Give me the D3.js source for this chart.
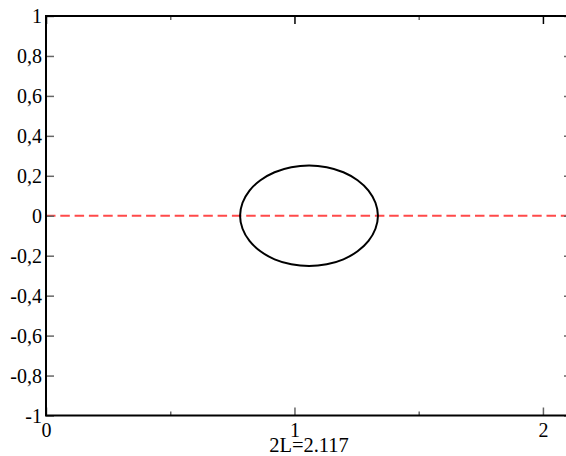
<!DOCTYPE html>
<html>
<head>
<meta charset="utf-8">
<script src="https://cdn.jsdelivr.net/npm/d3@7/dist/d3.min.js"></script>
</head>
<body style="margin:0">
<div id="chart"></div>
<script>
// axis ticks and their labels
const xTicks = [0, 1, 2];
const xTickLabels = ["0", "1", "2"];
const xMinorTicks = [0.5, 1.5];
const yTicks = [-1, -0.8, -0.6, -0.4, -0.2, 0, 0.2, 0.4, 0.6, 0.8, 1];
const yTickLabels = ["-1", "-0,8", "-0,6", "-0,4", "-0,2", "0", "0,2", "0,4", "0,6", "0,8", "1"];

// bubble outline
const shapeX = [1.336, 1.326, 1.298, 1.254, 1.197, 1.130, 1.059, 0.987, 0.920, 0.863, 0.819, 0.791,
                0.781, 0.791, 0.819, 0.863, 0.920, 0.987, 1.059, 1.130, 1.197, 1.254, 1.298, 1.326];
const shapeY = [0, 0.065, 0.126, 0.178, 0.218, 0.243, 0.252, 0.243, 0.218, 0.178, 0.126, 0.065,
                0, -0.065, -0.126, -0.178, -0.218, -0.243, -0.252, -0.243, -0.218, -0.178, -0.126, -0.065];

// dashed axis line
const lineX = [0, 2.117];
const lineY = [0, 0];

const caption = "2L=2.117";
const xMax = 2.117;
const FONT = "Liberation Serif";

const width = 566, height = 456;
const margin = {top: 16, right: -6, bottom: 40.5, left: 46};
const w = width - margin.left - margin.right;
const h = height - margin.top - margin.bottom;

const x = d3.scaleLinear().domain([0, xMax]).range([0, w]);
const y = d3.scaleLinear().domain([-1, 1]).range([h, 0]);

const svg = d3.select("#chart").append("svg")
    .attr("width", width)
    .attr("height", height);

const g = svg.append("g")
    .attr("transform", "translate(" + margin.left + "," + margin.top + ")");

// dashed red line at y=0
g.append("path")
    .datum(lineX.map((d, i) => [d, lineY[i]]))
    .attr("fill", "none")
    .attr("stroke", "#ff4a4a")
    .attr("stroke-width", 2)
    .attr("stroke-dasharray", "9.5,4.8")
    .attr("d", d3.line().x(d => x(d[0])).y(d => y(d[1])));

// bubble
g.append("path")
    .datum(shapeX.map((d, i) => [d, shapeY[i]]))
    .attr("fill", "none")
    .attr("stroke", "#000")
    .attr("stroke-width", 2)
    .attr("d", d3.line().x(d => x(d[0])).y(d => y(d[1])).curve(d3.curveCatmullRomClosed));

function styleAxis(sel) {
  sel.select(".domain").remove();
  sel.selectAll(".tick line").attr("stroke", "#666").attr("stroke-width", 1.5);
}

function tickText(sel) {
  sel.selectAll("text")
    .attr("fill", "#000")
    .attr("font-family", FONT)
    .attr("font-size", 20);
}

// left axis
g.append("g")
    .call(d3.axisLeft(y).tickValues(yTicks).tickSize(-8).tickPadding(4)
      .tickFormat((d, i) => yTickLabels[i]))
    .call(styleAxis)
    .call(tickText)
    .call(s => s.selectAll("text").attr("x", -4).attr("dy", "0.34em"));

// right axis
g.append("g")
    .attr("transform", "translate(" + w + ",0)")
    .call(d3.axisRight(y).tickValues(yTicks).tickSize(-8).tickFormat(""))
    .call(styleAxis);

// bottom axis
g.append("g")
    .attr("transform", "translate(0," + h + ")")
    .call(d3.axisBottom(x).tickValues(xTicks).tickSize(-8).tickPadding(4)
      .tickFormat((d, i) => xTickLabels[i]))
    .call(styleAxis)
    .call(tickText)
    .call(s => s.selectAll("text").attr("y", 4).attr("dy", "0.85em"));

g.append("g")
    .attr("transform", "translate(0," + h + ")")
    .call(d3.axisBottom(x).tickValues(xMinorTicks).tickSize(-4).tickFormat(""))
    .call(styleAxis);

// top axis
g.append("g")
    .call(d3.axisTop(x).tickValues(xTicks).tickSize(-8).tickFormat(""))
    .call(styleAxis)
    .call(s => s.selectAll(".tick line").attr("stroke", "#000"));

g.append("g")
    .call(d3.axisTop(x).tickValues(xMinorTicks).tickSize(-4).tickFormat(""))
    .call(styleAxis);

// frame
g.append("rect")
    .attr("width", w)
    .attr("height", h)
    .attr("fill", "none")
    .attr("stroke", "#000")
    .attr("stroke-width", 2);

// caption under the x axis
g.append("text")
    .attr("x", x(xMax / 2))
    .attr("y", h + 36)
    .attr("text-anchor", "middle")
    .attr("font-family", FONT)
    .attr("font-size", 20.5)
    .text(caption);
</script>
</body>
</html>
